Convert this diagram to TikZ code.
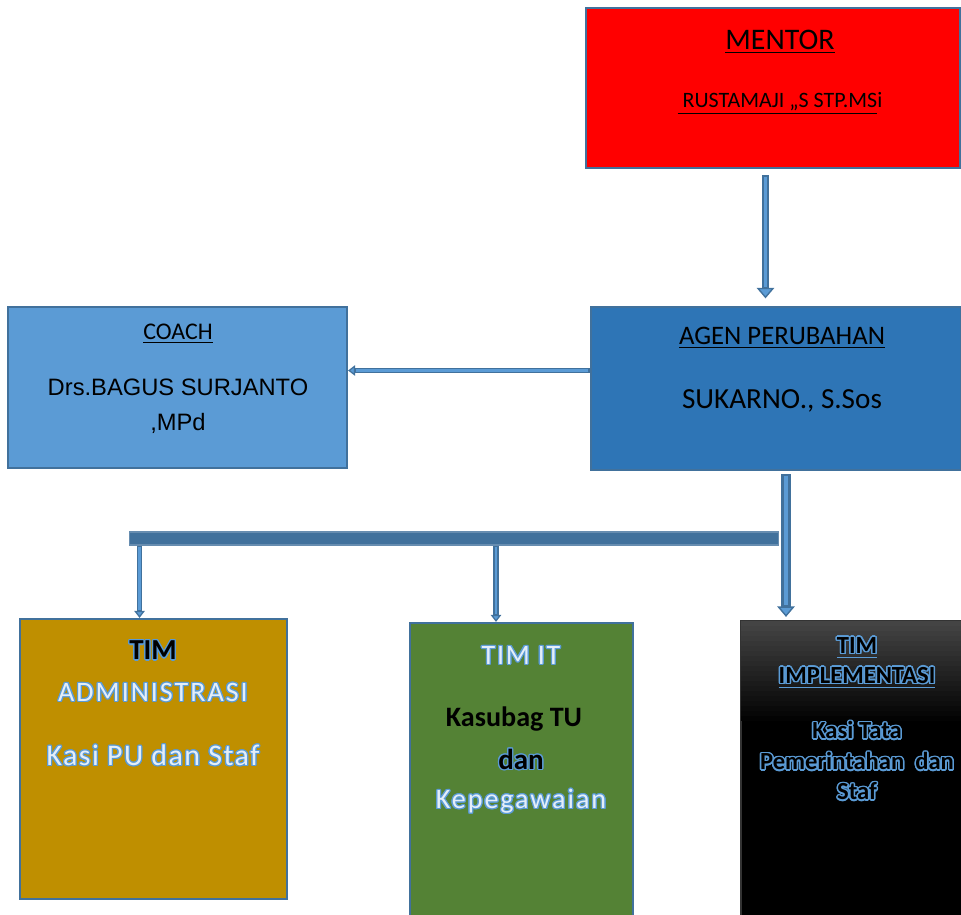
\documentclass[tikz,border=0pt]{standalone}
\usepackage{fontspec}
\setmainfont{Carlito}
\newfontfamily\arialfont{Liberation Sans}
\usepackage{contour}
\contourlength{0.7pt}
\usetikzlibrary{positioning,arrows.meta}
\definecolor{boxline}{HTML}{41719C}
\definecolor{arrowfill}{HTML}{5B9BD5}
\definecolor{mentorred}{HTML}{FF0000}
\definecolor{agenblue}{HTML}{2E75B6}
\definecolor{coachblue}{HTML}{5B9BD5}
\definecolor{admingold}{HTML}{BF8F00}
\definecolor{itgreen}{HTML}{548235}
\definecolor{impltop}{HTML}{444444}
\definecolor{wordfill}{HTML}{E4EEF8}

\begin{document}
\begin{tikzpicture}[x=0.02cm,y=-0.02cm]
        \tikzset{
          box/.style={draw=boxline,line width=1.3pt,inner sep=0pt},
          flowarrow/.style={draw=boxline,line width=3pt,-{Triangle[width=6pt,length=4pt,line width=0.7pt,fill=arrowfill]}},
          flowcore/.style={draw=arrowfill,line width=1.2pt,shorten >=4.5pt,shorten <=0.8pt},
          mainarrow/.style={draw=boxline,line width=5.2pt,-{Triangle[width=10pt,length=6pt,line width=0.8pt,fill=arrowfill]}},
          maincore/.style={draw=arrowfill,line width=2.8pt,shorten >=6.5pt,shorten <=0.9pt},
          wordart/.style={text=wordfill}
        }
        \useasboundingbox (0,0) rectangle (961,914);

        % boxes
        \node[box,fill=mentorred,minimum width=7.48cm,minimum height=3.2cm] (mentor) at (773,88) {};
        \node[box,fill=agenblue,minimum width=7.4cm,minimum height=3.26cm]   (agen)   at (776,388.5) {};
        \node[box,fill=coachblue,minimum width=6.78cm,minimum height=3.22cm] (coach)  at (177.5,387.5) {};
        \node[box,fill=boxline,draw=boxline!80!white,line width=0.6pt,minimum width=13cm,minimum height=0.26cm] (bar) at (454,538.5) {};
        \node[box,fill=admingold,minimum width=5.34cm,minimum height=5.6cm]  (admin)  at (153.5,759) {};
        \node[box,fill=itgreen,minimum width=4.46cm,minimum height=6.14cm]   (it)     at (521.5,776.5) {};
        \node[box,fill=black,draw=black!80,minimum width=4.48cm,minimum height=6.18cm] (impl) at (853,775.5) {};
        % dark grey fading into black at the top of the implementation box
        \foreach \i in {0,...,19}
          \fill[impltop!\the\numexpr100-5*\i\relax!black]
            ([xshift=0.65pt,yshift=-0.65pt-\i*0.1cm]impl.north west) rectangle ([xshift=-0.65pt,yshift=-0.65pt-\i*0.1cm-0.105cm]impl.north east);

        % texts
        \node[font=\fontsize{17}{20}\selectfont]      (mentortitle) at (780,42)  {\underline{MENTOR}};
        \node[font=\fontsize{12.5}{15}\selectfont]    (mentorname)  at (780,103) {\underline{\ RUSTAMAJI ,,S STP.MS}i};
        \node[font=\fontsize{15.2}{18}\selectfont]    (agentitle)   at (782,338) {\underline{AGEN PERUBAHAN}};
        \node[font=\fontsize{16.6}{20}\selectfont]    (agenname)    at (782,401) {SUKARNO., S.Sos};
        \node[font=\fontsize{13.6}{16}\selectfont]    (coachtitle)  at (178,334) {\underline{COACH}};
        \node[font=\arialfont\fontsize{13.5}{19.8}\selectfont,align=center] (coachname) at (178,406.5) {Drs.BAGUS SURJANTO\\,MPd};

        \node[font=\bfseries\fontsize{16.5}{19}\selectfont] (admintitle) at (153,651) {\contour{arrowfill}{TIM}};
        \node[wordart,font=\fontsize{16}{19}\selectfont\addfontfeature{LetterSpace=7}] (adminname) at (153,693) {\contour{arrowfill}{ADMINISTRASI}};
        \node[wordart,font=\fontsize{17}{20}\selectfont\addfontfeature{LetterSpace=5}] (adminstaff) at (153,756) {\contour{arrowfill}{Kasi PU dan Staf}};

        \node[wordart,font=\fontsize{16}{19}\selectfont\addfontfeature{LetterSpace=6}] (ittitle) at (521,656) {\contour{arrowfill}{TIM IT}};
        \node[font=\bfseries\fontsize{16}{19}\selectfont] (itname) at (514,719) {Kasubag TU};
        \node[font=\bfseries\fontsize{16.5}{19}\selectfont] (itand) at (521,760) {\contour{arrowfill}{dan}};
        \node[wordart,font=\fontsize{16}{19}\selectfont\addfontfeature{LetterSpace=7}] (itstaff) at (521,802) {\contour{arrowfill}{Kepegawaian}};

        \contourlength{0.85pt}
        \node[font=\bfseries\fontsize{14}{17}\selectfont] (impltitle) at (857,648) {\textcolor{arrowfill}{\underline{\textcolor{black}{\contour{arrowfill}{TIM}}}}};
        \node[font=\bfseries\fontsize{14}{17}\selectfont] (implname)  at (857,678) {\textcolor{arrowfill}{\underline{\textcolor{black}{\contour{arrowfill}{IMPLEMENTASI}}}}};
        \node[font=\bfseries\fontsize{14}{17}\selectfont] (implstaff1) at (857,731) {\contour{arrowfill}{Kasi Tata}};
        \node[font=\bfseries\fontsize{14}{17}\selectfont] (implstaff2) at (857,762) {\contour{arrowfill}{Pemerintahan\ \ dan}};
        \node[font=\bfseries\fontsize{14}{17}\selectfont] (implstaff3) at (857,792) {\contour{arrowfill}{Staf}};

        % connectors
        \coordinate (m1) at ([xshift=-0.15cm,yshift=-0.12cm]mentor.south);
        \draw[mainarrow,line width=4.2pt] (m1) -- ([yshift=0.15cm]m1 |- agen.north);
        \draw[maincore,line width=2pt] (m1) -- ([yshift=0.15cm]m1 |- agen.north);

        \coordinate (c1) at ([yshift=0.36cm]agen.west);
        \draw[flowarrow] (c1) -- (c1 -| coach.east);
        \draw[flowcore] (c1) -- (c1 -| coach.east);

        \coordinate (a1) at ([xshift=0.2cm,yshift=-0.06cm]agen.south);
        \draw[mainarrow] (a1) -- ([yshift=0.06cm]a1 |- impl.north);
        \draw[maincore] (a1) -- ([yshift=0.06cm]a1 |- impl.north);

        \coordinate (b1) at ([xshift=0.22cm]bar.south west);
        \draw[flowarrow] (b1) -- (b1 |- admin.north);
        \draw[flowcore] (b1) -- (b1 |- admin.north);

        \coordinate (b2) at ([xshift=-0.51cm]bar.south -| it.north);
        \draw[flowarrow] (b2) -- (b2 |- it.north);
        \draw[flowcore] (b2) -- (b2 |- it.north);
\end{tikzpicture}
\end{document}
